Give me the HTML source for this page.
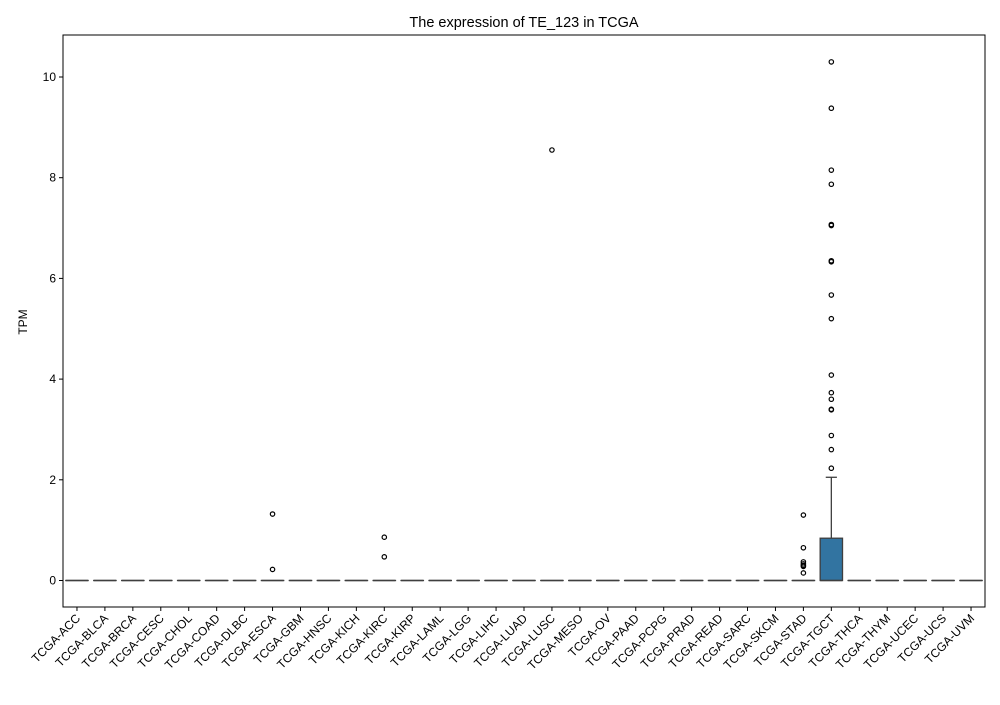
<!DOCTYPE html>
<html><head><meta charset="utf-8"><style>
body{margin:0;background:#fff;font-family:"Liberation Sans","DejaVu Sans",sans-serif}
</style></head><body>
<svg id="chart" width="1000" height="700" xmlns="http://www.w3.org/2000/svg">
<rect width="1000" height="700" fill="#fff"/>
<text x="524" y="27" font-size="14.5" text-anchor="middle">The expression of TE_123 in TCGA</text>
<text transform="translate(27,322) rotate(-90)" font-size="12" text-anchor="middle">TPM</text>
<g id="marks"></g>
<rect x="63" y="35" width="922" height="572" fill="none" stroke="#000" stroke-width="1"/>
</svg>
<script>
const categories=["TCGA-ACC","TCGA-BLCA","TCGA-BRCA","TCGA-CESC","TCGA-CHOL","TCGA-COAD","TCGA-DLBC","TCGA-ESCA","TCGA-GBM","TCGA-HNSC","TCGA-KICH","TCGA-KIRC","TCGA-KIRP","TCGA-LAML","TCGA-LGG","TCGA-LIHC","TCGA-LUAD","TCGA-LUSC","TCGA-MESO","TCGA-OV","TCGA-PAAD","TCGA-PCPG","TCGA-PRAD","TCGA-READ","TCGA-SARC","TCGA-SKCM","TCGA-STAD","TCGA-TGCT","TCGA-THCA","TCGA-THYM","TCGA-UCEC","TCGA-UCS","TCGA-UVM"];
const q1=[0,0,0,0,0,0,0,0,0,0,0,0,0,0,0,0,0,0,0,0,0,0,0,0,0,0,0,0,0,0,0,0,0];
const medians=[0,0,0,0,0,0,0,0,0,0,0,0,0,0,0,0,0,0,0,0,0,0,0,0,0,0,0,0,0,0,0,0,0];
const q3=[0,0,0,0,0,0,0,0,0,0,0,0,0,0,0,0,0,0,0,0,0,0,0,0,0,0,0,0.84,0,0,0,0,0];
const whiskerHigh=[0,0,0,0,0,0,0,0,0,0,0,0,0,0,0,0,0,0,0,0,0,0,0,0,0,0,0,2.05,0,0,0,0,0];
const outliers={
"TCGA-ESCA":[1.32,0.22],
"TCGA-KIRC":[0.86,0.47],
"TCGA-LUSC":[8.55],
"TCGA-STAD":[1.3,0.65,0.37,0.33,0.3,0.28,0.15],
"TCGA-TGCT":[10.3,9.38,8.15,7.87,7.07,7.05,6.35,6.33,5.67,5.2,4.08,3.73,3.6,3.4,3.39,2.88,2.6,2.23]
};
const yTicks=[0,2,4,6,8,10];

const L=63,R=985,T=35,B=607;
const bw=(R-L)/categories.length;
const x=i=>L+bw*(i+0.5);
const y=v=>580.5-v*50.35;
const NS="http://www.w3.org/2000/svg";
const g=document.getElementById('marks');
function mk(tag,attrs){const e=document.createElementNS(NS,tag);for(const k in attrs)e.setAttribute(k,attrs[k]);g.appendChild(e);return e;}

yTicks.forEach(t=>{
  const l=mk('line',{x1:L-4,x2:L,y1:y(t),y2:y(t),stroke:'#000'});
  
  
  const tx=mk('text',{x:L-7,y:y(t)+4,'font-size':12,'text-anchor':'end'});
  tx.textContent=t;
  
  
});

categories.forEach((c,i)=>{
  const cx=x(i);
  const tk=mk('line',{x1:cx,x2:cx,y1:B,y2:B+4,stroke:'#000'});
  
  
  const lb=mk('text',{x:cx+4,y:B+12,'font-size':12,'text-anchor':'end',transform:`rotate(-45 ${cx+4} ${B+12})`});
  lb.textContent=c;
  
  
  const hw=bw*0.4;
  if(whiskerHigh[i]>q3[i]){
    const w=mk('line',{x1:cx,x2:cx,y1:y(q3[i]),y2:y(whiskerHigh[i]),stroke:'#3f3f3f','stroke-width':1.3});
    
    
    const cap=mk('line',{x1:cx-hw/2,x2:cx+hw/2,y1:y(whiskerHigh[i]),y2:y(whiskerHigh[i]),stroke:'#3f3f3f','stroke-width':1.3});
    
    
  }
  const bx=mk('rect',{x:cx-hw,y:y(q3[i]),width:2*hw,height:Math.max(y(q1[i])-y(q3[i]),0.01),fill:'#3274a1',stroke:'#3f3f3f','stroke-width':1.3});
  
  
  const md=mk('line',{x1:cx-hw,x2:cx+hw,y1:y(medians[i]),y2:y(medians[i]),stroke:'#3f3f3f','stroke-width':1.5});
  
  
  (outliers[c]||[]).forEach(v=>{
    const o=mk('circle',{cx:cx,cy:y(v),r:2.2,fill:'none',stroke:'#000','stroke-width':1.2});
    
    
  });
});
</script>
</body></html>
